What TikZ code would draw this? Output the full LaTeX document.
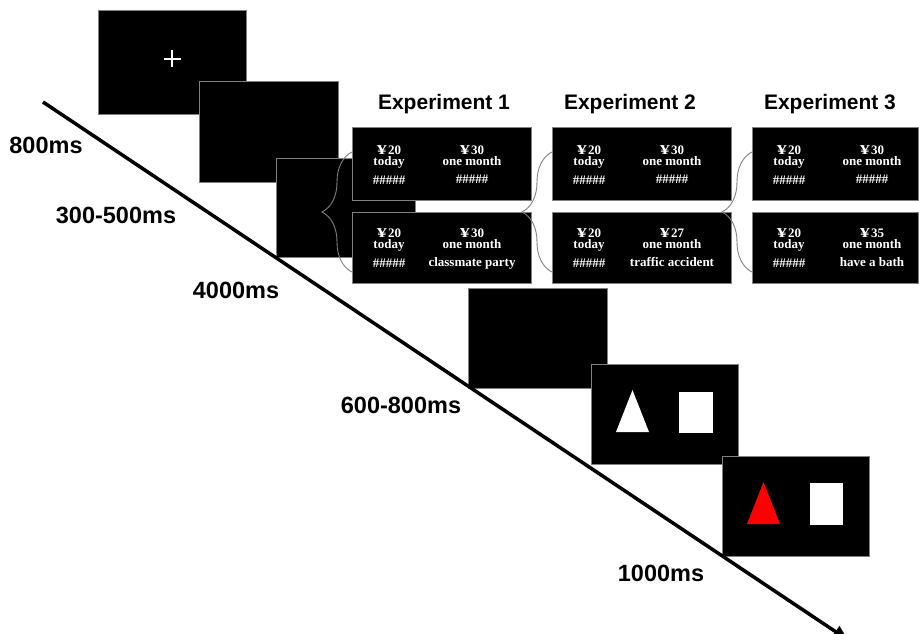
\documentclass[tikz,border=0pt]{standalone}
\usepackage{fontspec}
\usepackage{graphicx}
\setmainfont{Liberation Serif}
\newfontfamily\lsans{Liberation Sans}
\newfontfamily\lserif{Liberation Serif}
\usetikzlibrary{arrows.meta,decorations.pathreplacing}
% wide yen sign as used in the choice screens
\newcommand\bigyen{\scalebox{1.55}[1.05]{¥}\kern1.2pt}

\begin{document}
\begin{tikzpicture}[x=1pt,y=-1pt,
  screen/.style={draw=black!50, line width=1pt, fill=black, inner sep=0pt, outer sep=0pt, anchor=north west},
  timelabel/.style={font=\lsans\bfseries\fontsize{23.5}{26}\selectfont, inner sep=0pt, anchor=base},
  title/.style={font=\lsans\bfseries\fontsize{21}{24}\selectfont, inner sep=0pt, anchor=base},
  stim/.style={font=\lserif\bfseries\fontsize{13}{11}\selectfont, text=white, inner sep=0pt, anchor=north, align=center},
  curly/.style={draw=black!50, line width=0.9pt, decorate, decoration={brace, amplitude=30pt, aspect=0.5}}
]
\useasboundingbox (0,0) rectangle (919,634);

% fixation, blank and cue screens
\node[screen, minimum width=148pt, minimum height=103pt] (s1) at (98,11) {};
\draw[white, line width=2.8pt] (s1.center) ++(-8.5,-3.5) -- ++(17,0);
\draw[white, line width=2.8pt] (s1.center) ++(0,-12) -- ++(0,17);
\node[screen, minimum width=139pt, minimum height=100pt] (s2) at (199,82) {};
\node[screen, minimum width=139pt, minimum height=99pt] (s3) at (276,158) {};

% braces linking the cue screen to the choice screens
\coordinate (b1top) at (352,152); \coordinate (b1bot) at (352,272);
\coordinate (b2top) at (552,152); \coordinate (b2bot) at (552,272);
\coordinate (b3top) at (752,152); \coordinate (b3bot) at (752,272);
\draw[curly] (b1bot) -- (b1top);

% choice screens of the three experiments
\foreach \n/\x/\w in {1/352/179, 2/552/179, 3/752/166} {
  \node[screen, minimum width=\w pt, minimum height=73pt] (e\n t) at (\x,127) {};
  \node[screen, minimum width=\w pt, minimum height=71pt] (e\n b) at (\x,212) {};
}
\draw[curly] (b2bot) -- (b2top);
\draw[curly] (b3bot) -- (b3top);

\node[title] (t1) at (444,110) {Experiment 1};
\node[title] (t2) at (630,110) {Experiment 2};
\node[title] (t3) at (830,110) {Experiment 3};

% upper options (identical in all experiments) and the sooner lower option
\foreach \n in {1,2,3} {
  \node[stim] (e\n tl) at ([shift={(37,18.2)}]e\n t.north west) {\bigyen20\\today\\[7pt]\#\#\#\#\#};
  \node[stim] (e\n tr) at ([shift={(120,18.2)}]e\n t.north west) {\bigyen30\\one month\\[7pt]\#\#\#\#\#};
  \node[stim] (e\n bl) at ([shift={(37,16.7)}]e\n b.north west) {\bigyen20\\today\\[6.5pt]\#\#\#\#\#};
}
% later lower options with the framed events
\node[stim] (e1br) at ([shift={(120,16.7)}]e1b.north west) {\bigyen30\\one month\\[6.5pt]classmate party};
\node[stim] (e2br) at ([shift={(120,16.7)}]e2b.north west) {\bigyen27\\one month\\[6.5pt]traffic accident};
\node[stim] (e3br) at ([shift={(120,16.7)}]e3b.north west) {\bigyen35\\one month\\[6.5pt]have a bath};

% blank, target and feedback screens
\node[screen, minimum width=139pt, minimum height=100pt] (s4) at (468,288) {};
\node[screen, minimum width=147pt, minimum height=100pt] (s5) at (591,364) {};
\fill[white] (616,432) -- (632.5,390) -- (649,432) -- cycle;
\fill[white] (679,392) rectangle (713,433);
\node[screen, minimum width=147pt, minimum height=100pt] (s6) at (722,456) {};
\fill[red] (747,524) -- (763.5,482) -- (780,524) -- cycle;
\fill[white] (810,483) rectangle (843,525);

% time axis
\coordinate (tstart) at (43,102);
\coordinate (tend) at (848,640);
\draw[line width=3.5pt, -{Triangle[length=15pt,width=13pt]}] (tstart) -- (tend);

\node[timelabel] (l1) at (46,153.5) {800ms};
\node[timelabel] (l2) at (116,223.5) {300-500ms};
\node[timelabel] (l3) at (236,298.5) {4000ms};
\node[timelabel] (l4) at (401,413.5) {600-800ms};
\node[timelabel] (l5) at (661,581.5) {1000ms};
\end{tikzpicture}
\end{document}
